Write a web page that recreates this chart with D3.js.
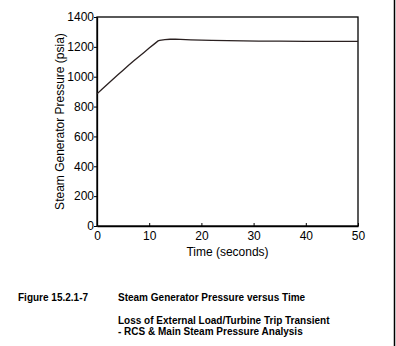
<!DOCTYPE html>
<html><head><meta charset="utf-8">
<script src="https://cdn.jsdelivr.net/npm/d3@7"></script>
<style>body{margin:0;background:#fff}svg{display:block}text{font-family:Arial,"Liberation Sans",sans-serif}</style>
</head><body><div id="chart"></div>
<script>
const timeSeconds = [0,1,2,3,4,5,6,7,8,9,10,11,11.7,12,13,14,15,16,18,20,22,25,28,31,35,40,45,50];
const pressurePsia = [885,918,950,982,1013,1044,1075,1105,1134,1163,1192,1220,1240,1243,1248,1251,1251,1250,1247,1245,1244,1242,1240,1239,1238,1237,1237,1237];
const xTicks = [0,10,20,30,40,50];
const yTicks = [0,200,400,600,800,1000,1200,1400];
const xTitle = "Time (seconds)";
const yTitle = "Steam Generator Pressure (psia)";
const captionLabel = "Figure 15.2.1-7";
const captionLines = ["Steam Generator Pressure versus Time", "", "Loss of External Load/Turbine Trip Transient", "- RCS & Main Steam Pressure Analysis"];

const W = 396, H = 346;
const m = {left: 97, right: 358, top: 17, bottom: 226};
const svg = d3.select("#chart").append("svg").attr("width", W).attr("height", H);

const x = d3.scaleLinear().domain([0,50]).range([m.left, m.right]);
const y = d3.scaleLinear().domain([0,1400]).range([m.bottom, m.top]);

svg.append("rect").attr("x", m.left).attr("y", m.top).attr("width", m.right-m.left).attr("height", m.bottom-m.top)
  .attr("fill","none").attr("stroke","#000").attr("stroke-width",1.3);

const xAxis = svg.append("g").attr("transform", `translate(0,${m.bottom})`)
  .call(d3.axisBottom(x).tickValues(xTicks).tickSizeInner(-3).tickSizeOuter(0).tickPadding(0).tickFormat(d3.format("d")));
xAxis.select(".domain").attr("stroke","#000").attr("stroke-width",1.3);
xAxis.selectAll("text").attr("y", 5).attr("font-size", 12).attr("fill","#000");

const yAxis = svg.append("g").attr("transform", `translate(${m.left},0)`)
  .call(d3.axisLeft(y).tickValues(yTicks).tickSizeInner(3).tickSizeOuter(0).tickPadding(0).tickFormat(d3.format("d")));
yAxis.select(".domain").attr("stroke","#000").attr("stroke-width",1.3);
yAxis.selectAll("text").attr("font-size", 12).attr("fill","#000");

svg.append("path").datum(timeSeconds.map((t,i)=>[t,pressurePsia[i]]))
  .attr("fill","none").attr("stroke","#2a2020").attr("stroke-width",1.3)
  .attr("d", d3.line().x(d=>x(d[0])).y(d=>y(d[1])));

svg.append("text").attr("x", (m.left+m.right)/2).attr("y", 256).attr("text-anchor","middle")
  .attr("font-size", 12).attr("fill","#000").text(xTitle);
svg.append("text").attr("transform", `translate(64,${(m.top+m.bottom)/2}) rotate(-90)`).attr("text-anchor","middle")
  .attr("font-size", 12).attr("fill","#000").text(yTitle);

svg.append("text").attr("x", 18).attr("y", 301).attr("font-size", 10).attr("font-weight","bold").text(captionLabel);
const capY = [301, 312, 324, 335];
captionLines.forEach((s,i)=>{ if(s) svg.append("text").attr("x",118).attr("y",capY[i]).attr("font-size",10).attr("font-weight","bold").text(s); });

svg.append("line").attr("x1",394.5).attr("x2",394.5).attr("y1",0).attr("y2",H).attr("stroke","#000").attr("stroke-width",1.5);
</script></body></html>
